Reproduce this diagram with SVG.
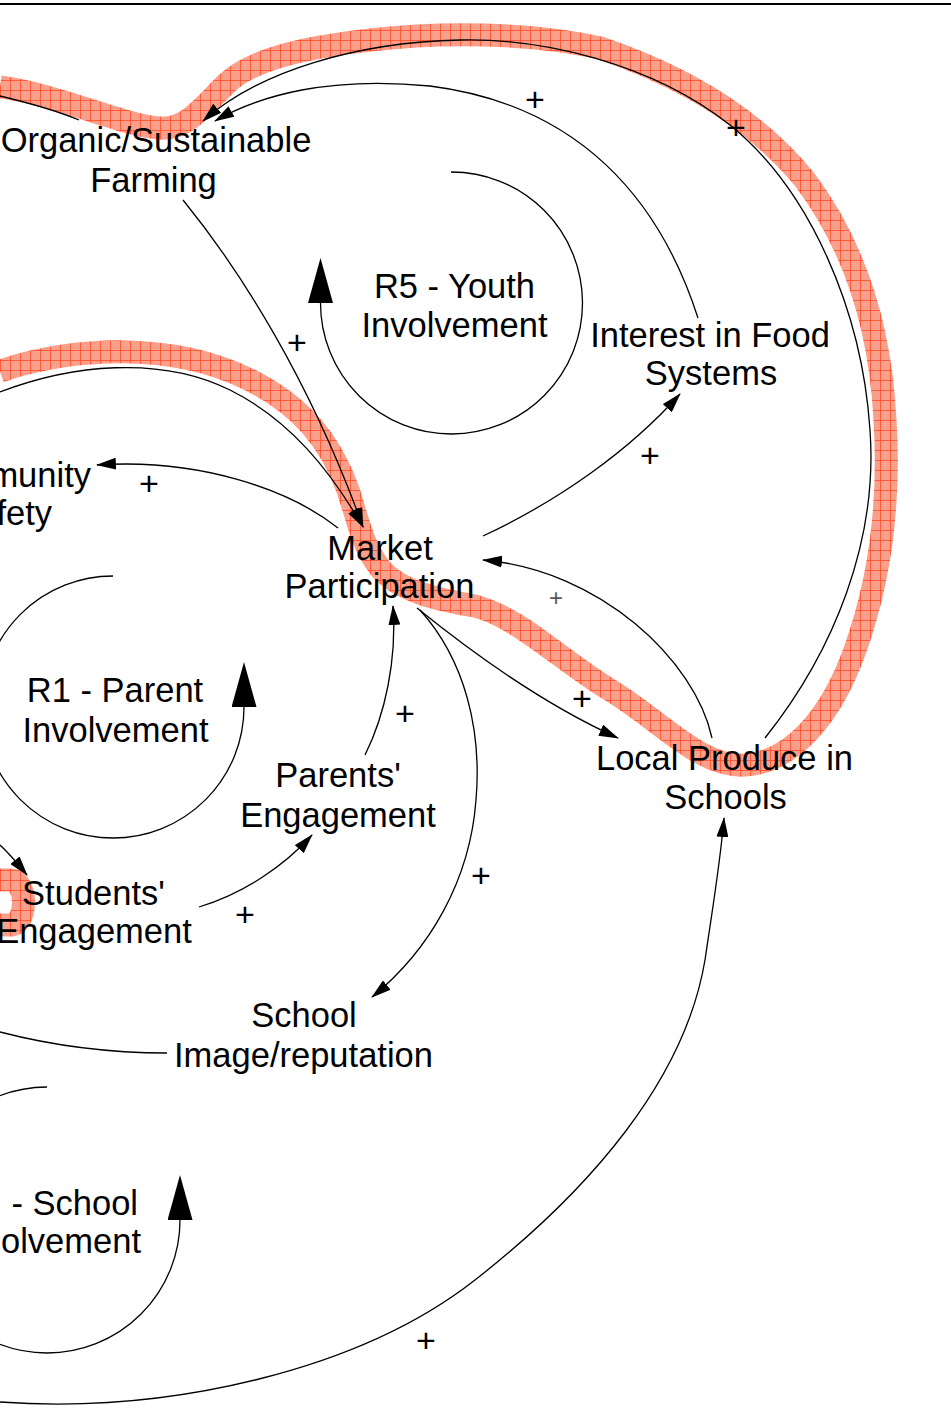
<svg xmlns="http://www.w3.org/2000/svg" width="951" height="1416" viewBox="0 0 951 1416">
<defs>
<style>
.t{font-family:"Liberation Sans",Arial,Helvetica,sans-serif;font-size:34.5px;fill:#000;text-anchor:middle}
.te{font-family:"Liberation Sans",Arial,Helvetica,sans-serif;font-size:34.5px;fill:#000;text-anchor:end}
.p{font-family:"Liberation Sans",Arial,Helvetica,sans-serif;font-size:34px;fill:#000;text-anchor:middle}
.ps{font-family:"Liberation Sans",Arial,Helvetica,sans-serif;font-size:24px;fill:#555;text-anchor:middle}
.c{fill:none;stroke:#000;stroke-width:1.3}
.band{fill:none;stroke:url(#hatch);stroke-width:23;stroke-linejoin:round}
</style>
<pattern id="hatch" patternUnits="userSpaceOnUse" width="10" height="10">
<rect width="10" height="10" fill="#f9a08c"/>
<path d="M0,0.5 H10 M0.5,0 V10" stroke="#ff4a26" stroke-width="0.8"/>
</pattern>
<marker id="arr" markerUnits="userSpaceOnUse" markerWidth="20" markerHeight="12" refX="19" refY="6" orient="auto">
<path d="M0,0 L20,6 L0,12 z" fill="#000"/>
</marker>
<marker id="loopArr" markerUnits="userSpaceOnUse" markerWidth="46" markerHeight="26" refX="0" refY="12.5" orient="auto">
<path d="M0,0 L45,12.5 L0,25 z" fill="#000"/>
</marker>
</defs>
<rect width="951" height="1416" fill="#fff"/>
<line x1="0" y1="4" x2="951" y2="4" stroke="#000" stroke-width="2"/>

<g id="highlight">
<path class="band" d="M0,371 C70,348 170,340 250,380 C300,405 330,440 348,490 C358,520 362,545 380,568 C400,592 440,600 475,606 C520,618 560,660 610,690 C660,720 700,768 745,765 C790,762 830,720 855,650 C880,580 890,500 885,420 C880,320 850,240 805,180 C760,125 695,80 600,48 C530,32 440,32 370,40 C300,48 250,60 225,85 C200,110 185,130 160,128 C120,125 60,95 0,87"/>
<path class="band" d="M-10,880 L10,880 C28,880 28,925 10,925 L-10,925"/>
</g>

<g id="loop-R5">
<path class="c" d="M451,172 A131,131 0 1 1 320.5,303" marker-end="url(#loopArr)"/>
<text class="t" x="454.5" y="298">R5 - Youth</text>
<text class="t" x="454.5" y="337">Involvement</text>
</g>
<g id="loop-R1">
<path class="c" d="M113,576 A131,131 0 1 0 244,707" marker-end="url(#loopArr)"/>
<text class="t" x="115" y="702">R1 - Parent</text>
<text class="t" x="115.5" y="742">Involvement</text>
</g>
<g id="loop-school">
<path class="c" d="M47,1087 A133,133 0 1 0 180,1220" marker-end="url(#loopArr)"/>
<text class="te" x="138" y="1215">- School</text>
<text class="te" x="141" y="1253">olvement</text>
</g>

<g id="connectors">
<path class="c" d="M765,738 C835,650 878,540 870,430 C862,310 810,190 730,125 C650,62 540,38 460,40 C360,42 260,70 203,121" marker-end="url(#arr)"/>
<path class="c" d="M698,318 C660,200 580,105 430,86 C330,76 260,95 215,121" marker-end="url(#arr)"/>
<path class="c" d="M183,200 C240,270 310,380 363,527" marker-end="url(#arr)"/>
<path class="c" d="M0,392 C70,365 160,355 230,390 C290,420 330,470 363,527" marker-end="url(#arr)"/>
<path class="c" d="M338,528 C290,490 200,458 97,465" marker-end="url(#arr)"/>
<path class="c" d="M483,536 C560,500 630,450 680,394" marker-end="url(#arr)"/>
<path class="c" d="M712,738 C695,660 600,570 483,560" marker-end="url(#arr)"/>
<path class="c" d="M417,608 C475,655 545,705 618,738" marker-end="url(#arr)"/>
<path class="c" d="M420,610 C465,660 482,730 476,800 C470,880 430,950 372,997" marker-end="url(#arr)"/>
<path class="c" d="M365,755 C385,715 397,660 393,606" marker-end="url(#arr)"/>
<path class="c" d="M199,907 C245,893 285,865 312,835" marker-end="url(#arr)"/>
<path class="c" d="M0,845 C10,854 18,864 27,875" marker-end="url(#arr)"/>
<path class="c" d="M167,1053 C110,1053 50,1045 0,1032"/>
<path class="c" d="M79,120 C55,110 25,102 0,96"/>
<path class="c" d="M0,1402 C170,1414 360,1370 475,1280 C590,1190 685,1080 705,960 C713,905 720,865 724,818" marker-end="url(#arr)"/>
</g>

<g id="node-organic">
<text class="t" x="156" y="152">Organic/Sustainable</text>
<text class="t" x="153.5" y="192">Farming</text>
</g>
<g id="node-interest">
<text class="t" x="710" y="347">Interest in Food</text>
<text class="t" x="711" y="385">Systems</text>
</g>
<g id="node-community">
<text class="te" x="91" y="487">munity</text>
<text class="te" x="52" y="525">fety</text>
</g>
<g id="node-market">
<text class="t" x="380" y="560">Market</text>
<text class="t" x="379.5" y="598">Participation</text>
</g>
<g id="node-local">
<text class="t" x="724.5" y="770">Local Produce in</text>
<text class="t" x="725.5" y="809">Schools</text>
</g>
<g id="node-parents">
<text class="t" x="338" y="787">Parents'</text>
<text class="t" x="338" y="827">Engagement</text>
</g>
<g id="node-students">
<text class="t" x="93.5" y="905">Students'</text>
<text class="t" x="94" y="943">Engagement</text>
</g>
<g id="node-school-image">
<text class="t" x="304" y="1027">School</text>
<text class="t" x="303.5" y="1067">Image/reputation</text>
</g>

<g id="polarities">
<text class="p" x="535" y="111">+</text>
<text class="p" x="736" y="139">+</text>
<text class="p" x="297" y="354">+</text>
<text class="p" x="149" y="495">+</text>
<text class="p" x="650" y="467">+</text>
<text class="ps" x="556" y="606">+</text>
<text class="p" x="582" y="710">+</text>
<text class="p" x="405" y="725">+</text>
<text class="p" x="245" y="926">+</text>
<text class="p" x="481" y="887">+</text>
<text class="p" x="426" y="1352">+</text>
</g>
</svg>
